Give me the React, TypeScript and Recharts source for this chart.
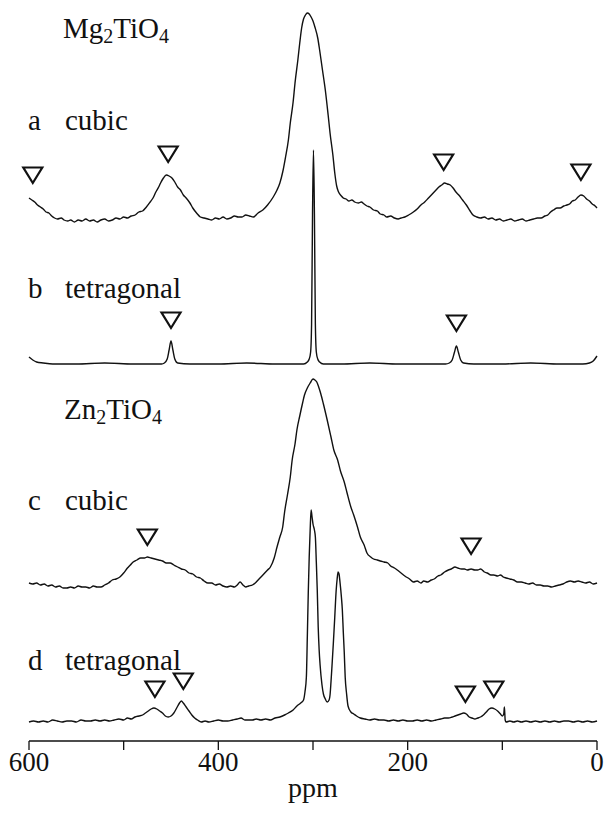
import React from "react"
import { ComposedChart, Line, Scatter, XAxis, YAxis } from "recharts"

// 71Ti/47Ti MAS spectra, intensity (ppm, height above trace baseline)
const traceA: [number, number][] = [
  [600, 22], [597, 20], [594, 18], [591, 15], [588, 13], [585, 11], [582, 8], [579, 7], [576, 4], [573, 2],
  [570, 1], [566, 2], [563, 0], [559, -1], [556, 0], [552, -2], [548, 0], [544, -1], [540, 1], [536, -1],
  [532, 0], [528, -2], [524, 0], [520, 1], [516, -1], [512, 0], [508, 2], [504, 1], [500, 3], [496, 2],
  [492, 4], [488, 5], [484, 8], [480, 9], [476, 13], [472, 18], [469, 22], [466, 28], [463, 33], [461, 37],
  [458, 42], [455, 45], [452, 44], [449, 42], [446, 38], [443, 33], [440, 30], [437, 25], [434, 22], [430, 17],
  [427, 12], [423, 7], [419, 3], [415, 2], [411, 1], [407, 0], [403, 2], [399, 1], [395, 3], [391, 1],
  [387, 2], [383, 4], [379, 3], [375, 3], [371, 5], [367, 4], [363, 3], [358, 7], [353, 10], [348, 15],
  [342, 23], [338, 30], [335, 37], [332, 48], [329, 63], [326, 80], [324, 97], [321, 118], [319, 137], [316, 160],
  [314, 177], [312, 192], [310, 201], [308, 205], [306, 207], [304, 206], [302, 203], [300, 199], [298, 193], [295, 182],
  [293, 170], [290, 150], [287, 130], [284, 105], [282, 87], [279, 65], [277, 47], [275, 34], [273, 28], [270, 24],
  [268, 22], [265, 21], [262, 19], [259, 20], [256, 18], [252, 17], [249, 18], [246, 16], [243, 14], [240, 13],
  [236, 10], [232, 9], [229, 6], [225, 5], [222, 3], [218, 4], [214, 2], [210, 1], [207, 2], [203, 3],
  [199, 5], [194, 8], [190, 11], [186, 15], [182, 18], [178, 22], [174, 26], [170, 30], [167, 33], [164, 35],
  [161, 37], [158, 36], [155, 35], [152, 32], [149, 28], [146, 25], [142, 20], [138, 15], [134, 9], [131, 5],
  [127, 3], [123, 2], [119, 3], [115, 1], [111, 2], [107, 0], [103, 1], [99, -1], [95, 0], [91, 1],
  [87, -1], [83, 0], [79, 1], [75, -1], [71, 0], [67, 1], [63, 2], [59, 2], [55, 4], [52, 5],
  [49, 8], [46, 10], [42, 12], [39, 12], [35, 14], [32, 15], [29, 16], [26, 19], [23, 20], [20, 23],
  [17, 25], [14, 24], [11, 21], [8, 19], [5, 16], [2, 14], [0, 12],
]

const traceB: [number, number][] = [
  [600, 7], [596, 4], [592, 2], [585, 1], [575, 0], [550, 0], [520, 1], [490, 0], [470, 0], [460, 0],
  [457, 1], [454, 5], [452, 14], [450, 23], [448, 14], [446, 5], [443, 1], [430, 0], [400, 0], [370, 1],
  [340, 0], [320, 0], [310, 0], [306, 2], [304, 5], [302.5, 12], [301.5, 40], [300.5, 150], [299.5, 214], [298.5, 150],
  [297.5, 40], [296.5, 12], [295, 5], [293, 2], [289, 0], [270, 0], [240, 1], [210, 0], [180, 0], [160, 0],
  [156, 1], [153, 4], [150.5, 12], [148.5, 18], [146.5, 12], [144, 4], [141, 1], [130, 0], [100, 0], [70, 1],
  [40, 0], [15, 0], [8, 1], [4, 3], [0, 8],
]

const traceC: [number, number][] = [
  [600, 4], [596, 3], [592, 4], [588, 2], [584, 3], [580, 1], [576, 2], [572, 0], [568, 1], [564, -1],
  [560, -1], [556, 0], [552, -1], [548, 1], [544, 0], [540, 0], [536, -1], [532, 1], [528, 0], [524, 0],
  [520, 2], [516, 4], [512, 7], [508, 8], [504, 10], [500, 14], [496, 19], [493, 22], [490, 25], [486, 27],
  [482, 29], [478, 29], [475, 30], [471, 29], [467, 28], [463, 27], [459, 26], [455, 24], [451, 24], [447, 22],
  [443, 20], [439, 18], [435, 17], [431, 14], [427, 13], [423, 10], [419, 9], [415, 6], [411, 4], [407, 4],
  [403, 2], [399, 3], [395, 1], [391, 0], [387, 1], [383, 0], [380, 2], [377, 5], [374, 2], [371, 0],
  [368, 1], [364, 2], [361, 4], [358, 7], [355, 10], [351, 14], [348, 17], [345, 20], [341, 29], [338, 40],
  [335, 50], [332, 60], [330, 75], [327, 92], [324, 110], [322, 127], [319, 143], [317, 157], [314, 171], [311, 184],
  [309, 192], [306, 199], [303, 204], [300, 208], [298, 207], [296, 205], [294, 200], [292, 194], [289, 183], [285, 167],
  [281, 150], [278, 137], [274, 127], [271, 116], [267, 105], [264, 94], [260, 80], [257, 72], [253, 60], [250, 50],
  [246, 42], [243, 34], [239, 30], [236, 28], [232, 27], [229, 26], [225, 25], [221, 24], [218, 21], [214, 19],
  [211, 17], [207, 14], [203, 11], [198, 8], [194, 5], [190, 6], [186, 4], [183, 6], [179, 5], [175, 7],
  [172, 8], [168, 11], [165, 12], [161, 15], [157, 17], [154, 18], [150, 20], [147, 19], [143, 18], [140, 18],
  [137, 17], [133, 18], [129, 17], [126, 17], [123, 18], [119, 15], [116, 14], [112, 12], [109, 12], [105, 11],
  [102, 12], [99, 10], [96, 9], [92, 8], [88, 7], [84, 5], [80, 5], [76, 4], [72, 3], [68, 4],
  [64, 2], [60, 2], [56, 1], [52, 1], [48, 0], [44, 1], [40, 2], [36, 3], [32, 5], [28, 6],
  [24, 5], [20, 6], [16, 5], [12, 4], [8, 5], [4, 3], [0, 4],
]

const traceD: [number, number][] = [
  [600, 0], [595, 1], [590, 0], [585, 1], [580, 0], [575, 2], [570, 1], [565, 0], [560, 1], [555, 1],
  [550, 0], [545, 2], [540, 1], [535, 1], [530, 2], [525, 1], [520, 2], [515, 1], [510, 2], [505, 3],
  [500, 2], [496, 4], [492, 3], [488, 5], [484, 6], [480, 7], [477, 9], [474, 11], [471, 13], [468, 14],
  [465, 13], [462, 11], [459, 9], [456, 6], [453, 5], [450, 6], [447, 9], [444, 14], [441, 19], [439, 21],
  [437, 19], [434, 15], [431, 11], [428, 7], [425, 4], [422, 2], [418, 0], [414, 1], [410, 0], [405, 1],
  [400, 2], [395, 1], [390, 1], [385, 2], [380, 3], [376, 4], [372, 2], [368, 2], [364, 2], [360, 3],
  [355, 2], [350, 3], [345, 2], [340, 4], [335, 5], [330, 7], [326, 9], [321, 12], [317, 16], [313, 19],
  [310, 22], [308.5, 30], [307, 45], [306, 85], [305, 129], [304, 165], [303, 192], [302, 212], [301, 205], [300, 198],
  [298.5, 192], [297.5, 185], [296.5, 160], [295.5, 132], [294.5, 95], [293.5, 72], [292.5, 57], [290.5, 37], [289, 28], [287, 23],
  [285, 20], [283, 22], [282, 27], [281, 40], [280, 55], [278.5, 79], [277, 105], [275.5, 132], [274.5, 143], [273.5, 150],
  [272.5, 148], [271.5, 140], [270, 125], [269, 112], [268, 90], [267, 70], [266, 45], [264.5, 28], [263, 16], [260, 10],
  [257, 8], [254, 6], [250, 4], [245, 3], [240, 2], [235, 3], [230, 2], [225, 2], [220, 1], [215, 2],
  [210, 1], [205, 2], [200, 1], [195, 1], [190, 2], [185, 1], [180, 2], [175, 1], [170, 2], [165, 3],
  [161, 4], [157, 4], [153, 5], [150, 6], [147, 7], [144, 8], [141, 9], [138, 8], [135, 5], [132, 4],
  [129, 3], [126, 4], [123, 5], [120, 7], [117, 10], [114, 13], [111, 14], [108, 13], [105, 11], [102, 8],
  [100, 6], [98.5, 8], [97.8, 15], [97, 2], [96, 0], [92, 1], [88, 0], [84, 1], [80, 0], [75, 1],
  [70, 0], [65, 1], [60, 0], [55, 1], [50, 0], [45, 1], [40, 0], [35, 1], [30, 1], [25, 0],
  [20, 1], [15, 0], [10, 1], [5, 0], [0, 1],
]

// spinning sideband markers (ppm)
const markersA = [596, 453, 162, 17]
const markersB = [450, 148.5]
const markersC = [475, 133]
const markersD = [467, 437, 139, 109]

const xTicks = [600, 500, 400, 300, 200, 100, 0]

// layout (chart units = px above the axis line)
const PLOT_H = 741
const BASE = { a: 521, b: 377, c: 154, d: 19 }
const TIP_A = [558, 579, 571, 561]
const TIP_B = [413, 410]
const TIP_C = [196, 187]
const TIP_D = [44, 52, 39, 44]

const FONT = "Liberation Serif, Tinos, Times New Roman, DejaVu Serif, serif"
const INK = "#111"

const toSeries = (trace: [number, number][], base: number) =>
  trace.map(([ppm, v]) => ({ ppm, v: base + v }))

const toMarkers = (ppms: number[], tips: number[]) =>
  ppms.map((ppm, i) => ({ ppm, v: tips[i] }))

const Triangle = (props: any) => {
  const { cx, cy } = props
  if (cx == null || cy == null) return null
  return (
    <polygon
      points={`${cx - 9.5},${cy - 15.5} ${cx + 9.5},${cy - 15.5} ${cx},${cy}`}
      fill="none"
      stroke={INK}
      strokeWidth={2.2}
      strokeLinejoin="miter"
    />
  )
}

const Formula = ({ x, y, el }: { x: number; y: number; el: string }) => (
  <text x={x} y={y} style={{ fontFamily: FONT, fontSize: 29 }} fill={INK}>
    {el}
    <tspan style={{ fontSize: 20 }} dy={5}>2</tspan>
    <tspan dy={-5}>TiO</tspan>
    <tspan style={{ fontSize: 20 }} dy={5}>4</tspan>
  </text>
)

const Tag = ({ y, letter, name }: { y: number; letter: string; name: string }) => (
  <g style={{ fontFamily: FONT, fontSize: 29 }} fill={INK}>
    <text x={28} y={y}>{letter}</text>
    <text x={65} y={y}>{name}</text>
  </g>
)

export default function App() {
  const series = [
    toSeries(traceA, BASE.a),
    toSeries(traceB, BASE.b),
    toSeries(traceC, BASE.c),
    toSeries(traceD, BASE.d),
  ]
  const markers = [
    ...toMarkers(markersA, TIP_A),
    ...toMarkers(markersB, TIP_B),
    ...toMarkers(markersC, TIP_C),
    ...toMarkers(markersD, TIP_D),
  ]

  return (
    <div style={{ position: "absolute", left: 0, top: 0, width: 604, height: 815, background: "#fff", fontFamily: FONT }}>
      <ComposedChart width={604} height={815} margin={{ top: 0, right: 7, bottom: 0, left: 29 }}>
        <XAxis
          dataKey="ppm"
          type="number"
          domain={[0, 600]}
          reversed
          ticks={xTicks}
          tickFormatter={(v: number) => (v % 200 === 0 ? String(v) : "")}
          height={74}
          tickSize={9}
          stroke={INK}
          axisLine={{ stroke: INK, strokeWidth: 1.3 }}
          tickLine={{ stroke: INK, strokeWidth: 1.3 }}
          tick={{ fill: INK, fontSize: 27, fontFamily: FONT, style: { fontFamily: FONT } }}
        />
        <YAxis hide type="number" domain={[0, PLOT_H]} />
        {series.map((d, i) => (
          <Line
            key={i}
            data={d}
            dataKey="v"
            type="monotone"
            stroke={INK}
            strokeWidth={1.4}
            dot={false}
            activeDot={false}
            isAnimationActive={false}
          />
        ))}
        <Scatter data={markers} dataKey="v" shape={Triangle} isAnimationActive={false} />
      </ComposedChart>
      <svg width={604} height={815} style={{ position: "absolute", left: 0, top: 0, pointerEvents: "none" }}>
        <Formula x={63} y={38} el="Mg" />
        <Tag y={130} letter="a" name="cubic" />
        <Tag y={298} letter="b" name="tetragonal" />
        <Formula x={64} y={419} el="Zn" />
        <Tag y={510} letter="c" name="cubic" />
        <Tag y={670} letter="d" name="tetragonal" />
        <text x={313} y={797} textAnchor="middle" style={{ fontFamily: FONT, fontSize: 28 }} fill={INK}>
          ppm
        </text>
      </svg>
    </div>
  )
}
